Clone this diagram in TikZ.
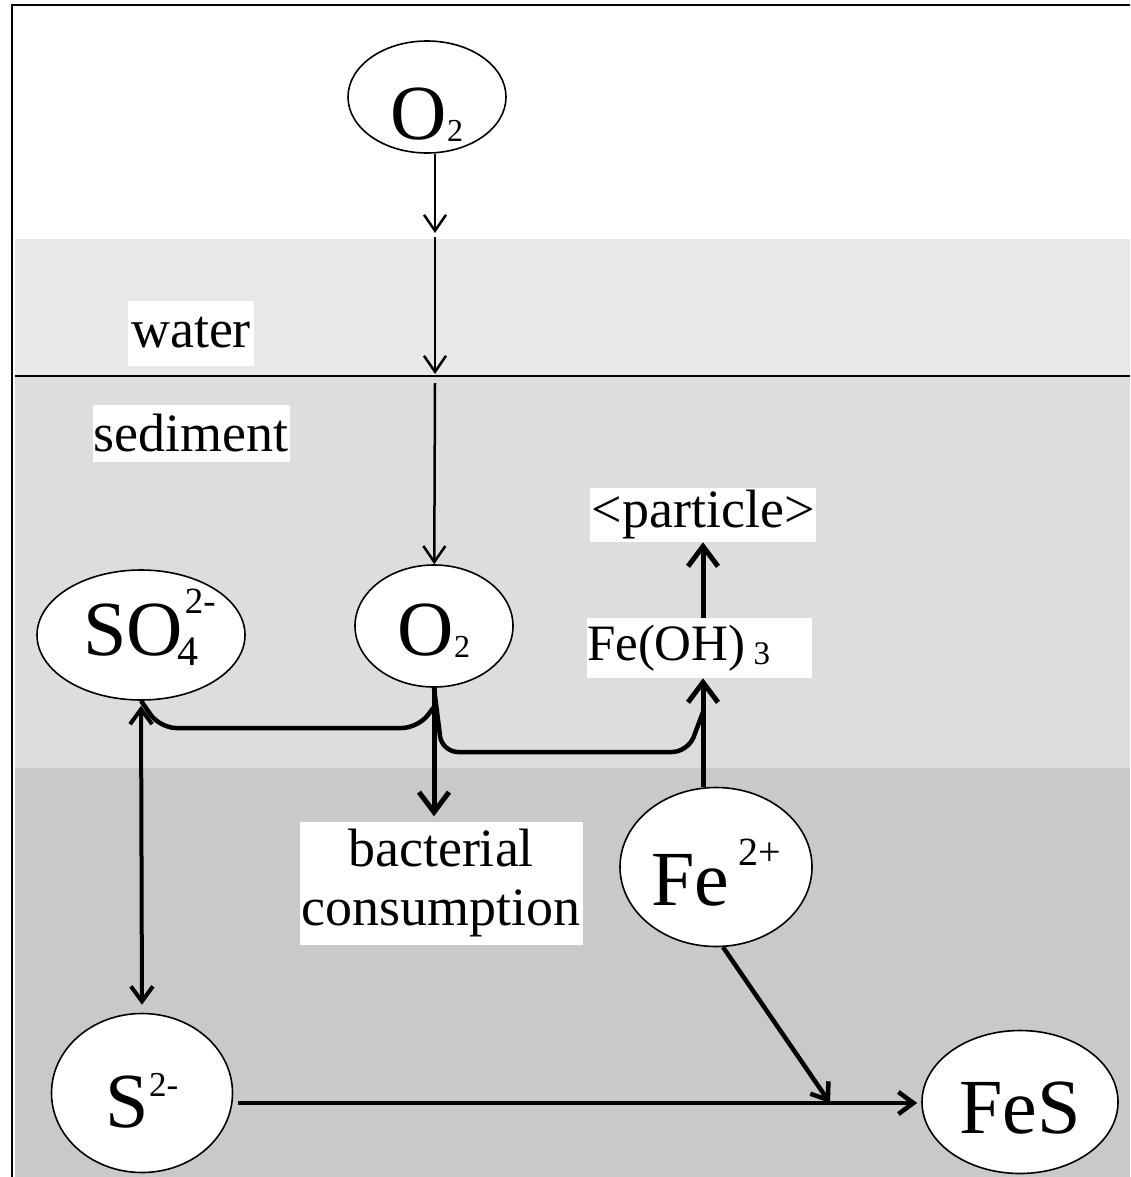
\documentclass[tikz,border=0pt]{standalone}
\usepackage{fontspec}
\setmainfont{Liberation Serif}
\usetikzlibrary{arrows.meta, shapes.geometric}
\definecolor{waterbg}{HTML}{E8E8E8}
\definecolor{sedbg}{HTML}{DDDDDD}
\definecolor{deepbg}{HTML}{C9C9C9}
\newcommand{\baseat}[2]{\raisebox{-#1}[0pt][0pt]{#2}}

\begin{document}
\begin{tikzpicture}[x=1pt, y=-1pt,
    spec/.style={ellipse, draw, line width=1.6pt, fill=white, inner sep=0pt,
                 font=\fontsize{78}{80}\selectfont},
    lbl/.style={rectangle, fill=white, inner sep=0pt, align=center,
                font=\fontsize{54}{59}\selectfont},
    flux/.style={-{Straight Barb[length=16pt, width=22pt]}, line width=2.5pt},
    react/.style={-{Straight Barb[length=20pt, width=30pt]}, line width=5pt},
    bond/.style={-{Straight Barb[length=15pt, width=22pt]}, line width=4.5pt},
    dbl/.style={<->, >={Straight Barb[length=15pt, width=22pt]}, line width=4pt},
    link/.style={line width=4.5pt, rounded corners=16pt}
  ]
  \useasboundingbox (0,0) rectangle (1130,1177);
  \fill[waterbg] (15,239) rectangle (1130,376);
  \fill[sedbg] (15,376) rectangle (1130,768);
  \fill[deepbg] (15,768) rectangle (1130,1177);
  \draw[line width=2.5pt] (15,376) -- (1130,376);
  \draw[line width=2pt] (12,1177) -- (12,5) -- (1130,5);

  \node[lbl, minimum width=126pt, minimum height=65pt] (water) at (191,333) {water};
  \node[lbl, minimum width=197pt, minimum height=57pt] (sed) at (191,433) {sediment};
  \node[lbl, minimum width=226pt, minimum height=54pt] (part) at (703,515) {<particle>};
  \node[lbl, align=left, text width=225pt, minimum height=60pt] (feoh) at (699.5,648)
    {\fontsize{51}{56}\selectfont Fe(OH)\hspace{8pt}\raisebox{-4pt}{\fontsize{33}{33}\selectfont 3}};
  \node[lbl, minimum width=283pt, minimum height=123pt] (bact) at (441,883)
    {bacterial\\consumption};

  \node[spec, minimum width=158pt, minimum height=112pt] (o2w) at (427,97)
    {\baseat{43pt}{O\raisebox{-2pt}{\fontsize{32}{32}\selectfont 2}}};
  \node[spec, minimum width=158pt, minimum height=122pt] (o2s) at (434,626)
    {\baseat{29pt}{O\raisebox{-2pt}{\fontsize{32}{32}\selectfont 2}}};
  \node[spec, minimum width=208pt, minimum height=130pt] (so4) at (141,635)
    {\baseat{20pt}{SO\rlap{\hspace{2pt}\raisebox{42pt}{\fontsize{37}{37}\selectfont 2-}}\hspace{-5pt}\raisebox{-10pt}{\fontsize{42}{42}\selectfont 4}}};
  \node[spec, minimum width=192pt, minimum height=159pt] (fe2) at (716,867)
    {\baseat{38pt}{Fe\hspace{9pt}\raisebox{40pt}{\fontsize{40}{40}\selectfont 2+}}};
  \node[spec, minimum width=181pt, minimum height=159pt] (s2) at (142,1093)
    {\baseat{34pt}{S\raisebox{31pt}{\fontsize{35}{35}\selectfont 2-}}};
  \node[spec, minimum width=196pt, minimum height=143pt] (fes) at (1020,1102)
    {\baseat{31pt}{FeS}};

  \coordinate (w1) at (435,233);
  \coordinate (w2) at (435,237);
  \coordinate (w3) at (435,374);
  \coordinate (w4) at (435,383);
  \coordinate (j1) at (434,707);
  \coordinate (j2) at (703,712);
  \coordinate (join) at (830,1103);

  \draw[flux] (o2w.south -| w1) -- (w1);
  \draw[flux] (w2) -- (w3);
  \draw[flux] (w4) -- (o2s);
  \draw[react, shorten >=5pt] (o2s.south) -- (o2s.south |- bact.north);
  \draw[link] (so4.south) -- (160,728) -- (418,728) -- (j1);
  \draw[link] (o2s.south) -- (442,752) -- (688,752) -- (j2);
  \draw[react] (fe2.north -| part.south) -- (part.south |- feoh.south);
  \draw[react] (part.south |- feoh.north) -- (part.south);
  \draw[dbl, shorten <=5pt, shorten >=8pt] (so4.south) -- (s2.north);
  \draw[bond] (fe2.-85) -- (join);
  \draw[bond, shorten <=5pt, shorten >=4pt] (s2.east |- join) -- (fes.west |- join);
\end{tikzpicture}
\end{document}
